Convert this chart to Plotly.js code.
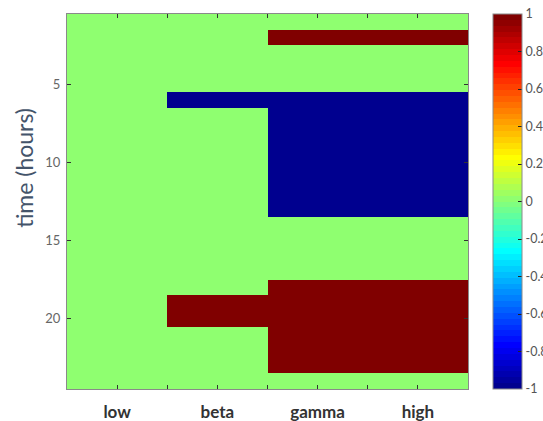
<!DOCTYPE html>
<html>
<head>
<meta charset="utf-8">
<script src="https://cdn.plot.ly/plotly-3.0.1.min.js"></script>
<style>html,body{margin:0;padding:0;background:#fff;}#chart{width:543px;height:421px;}</style>
</head>
<body>
<div id="chart"></div>
<script>
// Data (time in hours, 1..24; values per frequency band)
var categories = ['low', 'beta', 'gamma', 'high'];
var hours = [1,2,3,4,5,6,7,8,9,10,11,12,13,14,15,16,17,18,19,20,21,22,23,24];
var low   = [0,0,0,0,0,0,0,0,0,0,0,0,0,0,0,0,0,0,0,0,0,0,0,0];
var beta  = [0,0,0,0,0,-1,0,0,0,0,0,0,0,0,0,0,0,0,1,1,0,0,0,0];
var gamma = [0,1,0,0,0,-1,-1,-1,-1,-1,-1,-1,-1,0,0,0,0,1,1,1,1,1,1,0];
var high  = [0,1,0,0,0,-1,-1,-1,-1,-1,-1,-1,-1,0,0,0,0,1,1,1,1,1,1,0];
var colorTicks = [-1,-0.8,-0.6,-0.4,-0.2,0,0.2,0.4,0.6,0.8,1];
var yTitle = 'time (hours)';

var series = [low, beta, gamma, high];
var xpos = categories.map(function(c, i){ return i + 1; });
var z = hours.map(function(h, r){ return series.map(function(s){ return s[r]; }); });

// MATLAB-style jet(64) colormap (styling)
function jet64(){
  var m = 64, n = 16, u = [];
  for (var i = 1; i <= n; i++) u.push(i / n);
  for (var i = 0; i < n - 1; i++) u.push(1);
  for (var i = n; i >= 1; i--) u.push(i / n);
  var R = new Array(m).fill(0), G = new Array(m).fill(0), B = new Array(m).fill(0);
  for (var k = 0; k < u.length; k++) {
    var g = 8 + k + 1, r = g + n, b = g - n;
    if (r >= 1 && r <= m) R[r-1] = u[k];
    if (g >= 1 && g <= m) G[g-1] = u[k];
    if (b >= 1 && b <= m) B[b-1] = u[k];
  }
  var cs = [];
  for (var k = 0; k < m; k++) {
    var col = 'rgb(' + Math.round(R[k]*255) + ',' + Math.round(G[k]*255) + ',' + Math.round(B[k]*255) + ')';
    cs.push([k / m, col]);
    cs.push([(k + 1) / m, col]);
  }
  return cs;
}

var CB_X = 1.0625;           // colorbar left edge in paper coords
var PLOT_W = 401;            // plot width in px (for tick length conversion)
var FONT = 'Lato, "Open Sans", sans-serif';

var trace = {
  type: 'heatmap',
  x: xpos,
  y: hours,
  z: z,
  zmin: -1,
  zmax: 1,
  colorscale: jet64(),
  hoverinfo: 'none',
  colorbar: {
    x: CB_X, xanchor: 'left',
    y: 0.5, yanchor: 'middle',
    len: 1, lenmode: 'fraction',
    thickness: 29, thicknessmode: 'pixels',
    outlinecolor: '#8a8a8a', outlinewidth: 1,
    tickvals: colorTicks,
    ticktext: colorTicks.map(function(v){ return String(v); }),
    ticks: 'inside', ticklen: 4, tickcolor: '#222', tickwidth: 1,
    tickfont: {family: FONT, size: 12.5, color: '#555'},
    xpad: 0, ypad: 0
  }
};

// left-side colorbar ticks (MATLAB draws ticks on both edges)
var shapes = colorTicks.slice(1, -1).map(function(v){
  var yy = (v + 1) / 2;
  return {type: 'line', xref: 'paper', yref: 'paper',
          x0: CB_X, x1: CB_X + 4 / PLOT_W, y0: yy, y1: yy,
          line: {color: '#222', width: 1}};
});

var layout = {
  width: 543, height: 421,
  margin: {l: 67, r: 75, t: 14, b: 32, pad: 0, autoexpand: false},
  paper_bgcolor: '#fff',
  plot_bgcolor: '#fff',
  showlegend: false,
  shapes: shapes,
  annotations: [{
    text: yTitle, textangle: -90, showarrow: false,
    xref: 'paper', yref: 'paper', x: -0.107, y: 0.59,
    xanchor: 'center', yanchor: 'middle',
    font: {family: FONT, size: 23, color: '#44546A'}
  }],
  xaxis: {
    range: [0.5, 4.5],
    tickvals: [1, 1.5, 2, 2.5, 3, 3.5, 4],
    ticktext: ['low', '', 'beta', '', 'gamma', '', 'high'],
    ticks: 'inside', ticklen: 4, tickcolor: '#333', tickwidth: 1,
    mirror: 'allticks', showline: true, linecolor: '#8a8a8a', linewidth: 1,
    showgrid: false, zeroline: false,
    ticklabelstandoff: 8,
    tickfont: {family: FONT, size: 17, color: '#333', weight: 'bold'},
    automargin: false,
    fixedrange: true
  },
  yaxis: {
    range: [24.5, 0.5],
    tickvals: [5, 10, 15, 20],
    ticks: 'inside', ticklen: 4, tickcolor: '#333', tickwidth: 1,
    mirror: 'allticks', showline: true, linecolor: '#8a8a8a', linewidth: 1,
    showgrid: false, zeroline: false,
    ticklabelstandoff: 3,
    tickfont: {family: FONT, size: 13, color: '#666'},
    automargin: false,
    fixedrange: true
  }
};

Plotly.newPlot('chart', [trace], layout, {displayModeBar: false, staticPlot: true});
</script>
</body>
</html>
